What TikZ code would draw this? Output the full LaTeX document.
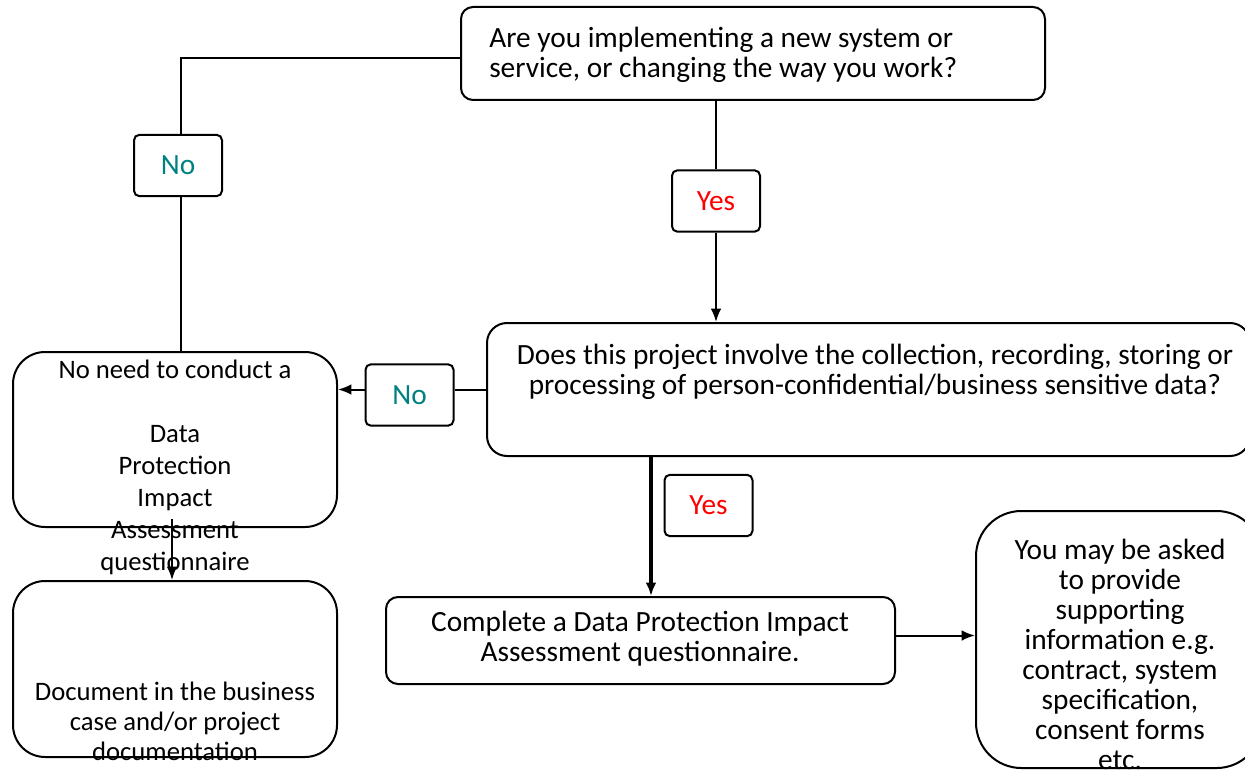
\documentclass[tikz,border=0pt]{standalone}
\usepackage{fontspec}
\setmainfont{Carlito}
\usetikzlibrary{calc}
\usetikzlibrary{arrows.meta}
\definecolor{noteal}{RGB}{0,128,128}
\definecolor{yesred}{RGB}{255,0,0}

\begin{document}
\begin{tikzpicture}[x=0.75pt, y=-0.75pt,
		box/.style={draw, line width=1.5pt, inner sep=0pt},
		txt/.style={align=center, inner sep=0pt, font=\fontsize{22}{22.5}\selectfont},
		tag/.style={draw, line width=1.5pt, rounded corners=4pt, inner sep=0pt,
			minimum width=66pt, minimum height=46pt, font=\fontsize{22}{24}\selectfont},
		link/.style={line width=1.5pt},
		arr/.style={-{Latex[length=10pt,width=8pt]}}]
		\useasboundingbox (0,0) rectangle (1245,770);
		
		\draw (753,53.5) node[box, rounded corners=9pt, minimum width=438pt, minimum height=69.75pt] (q1) {};
		\draw (868.5,389.5) node[box, rounded corners=15pt, minimum width=572.25pt, minimum height=99.75pt] (q2) {};
		\draw (175,439.5) node[box, rounded corners=24pt, minimum width=243pt, minimum height=131.25pt] (nn) {};
		\draw (175,669) node[box, rounded corners=24pt, minimum width=243pt, minimum height=132pt] (doc) {};
		\draw (640.5,640.5) node[box, rounded corners=9pt, minimum width=381.75pt, minimum height=65.25pt] (comp) {};
		\draw (1119,639.5) node[box, rounded corners=34pt, minimum width=214.5pt, minimum height=192.75pt] (ask) {};
		
		\draw (489,55) node[txt, align=left, anchor=west] (t1) {Are you implementing a new system or\\service, or changing the way you work?};
		\draw (875,372) node[txt] (t2) {Does this project involve the collection, recording, storing or\\processing of person-confidential/business sensitive data?};
		\draw (175,467) node[txt, font=\fontsize{20}{24}\selectfont] (t3) {No need to conduct a\\[24pt]Data\\Protection\\Impact\\Assessment\\questionnaire};
		\draw (175,721) node[txt, font=\fontsize{20}{22.5}\selectfont] (t4) {Document in the business\\case and/or project\\documentation};
		\draw (640,639) node[txt] (t5) {Complete a Data Protection Impact\\Assessment questionnaire.};
		\draw (1120,654) node[txt] (t6) {You may be asked\\to provide\\supporting\\information e.g.\\contract, system\\specification,\\consent forms\\etc.};
		
		\draw (178,165.5) node[tag, text=noteal] (no1) {No};
		\draw (716,201) node[tag, text=yesred] (yes1) {Yes};
		\draw (409.5,395) node[tag, text=noteal] (no2) {No};
		\draw (708.5,505.5) node[tag, text=yesred] (yes2) {Yes};
		\coordinate (drop) at (651,0);
		
		\draw[link] ($(q1.west)+(0,5)$) -| ($(no1.north)+(3,0)$);
		\draw[link] ($(no1.south)+(3,0)$) -- ($(no1.south |- nn.north)+(3,0)$);
		
		\draw[link] (yes1.north |- q1.south) -- (yes1.north);
		\draw[link, arr] (yes1.south) -- (yes1.south |- q2.north);
		
		\draw[link] (q2.west) -- (no2.east |- q2.west);
		\draw[link, arr] (no2.west |- q2.west) -- (nn.east |- q2.west);
		
		\draw[link, line width=3pt, arr] (drop |- q2.south) -- (drop |- comp.north);
		\draw[link, arr] ($(nn.south)+(-3,-9)$) -- ($(doc.north)+(-3,0)$);
		\draw[link, arr] ($(comp.east)+(0,-5)$) -- ($(ask.west |- comp.east)+(0,-5)$);
	\end{tikzpicture}
\end{document}
